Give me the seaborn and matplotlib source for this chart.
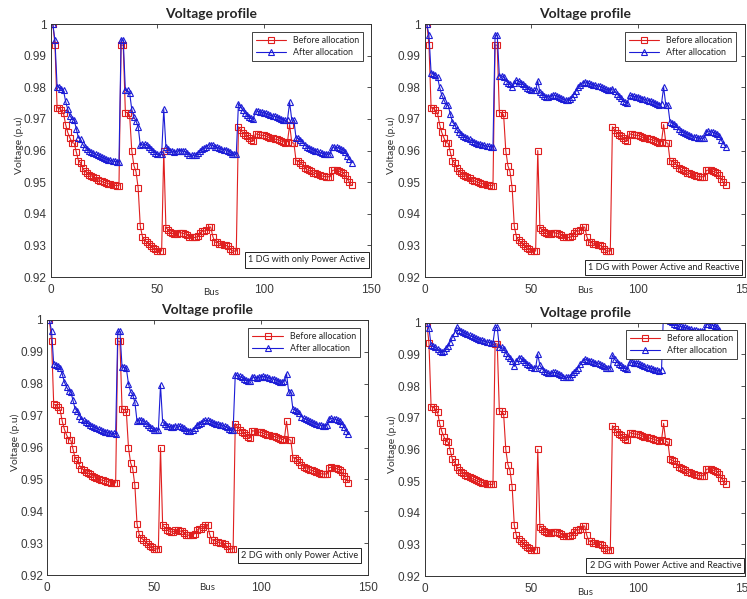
import matplotlib
matplotlib.use("Agg")
import matplotlib.pyplot as plt
import numpy as np
import pandas as pd
import seaborn as sns
from matplotlib.ticker import FuncFormatter

# voltage at each bus (p.u)
before_alloc = [
    1.0000, 0.9935, 0.9735, 0.9733, 0.9727, 0.9718, 0.9682, 0.9657, 0.9640, 0.9625,
    0.9623, 0.9596, 0.9568, 0.9561, 0.9545, 0.9534, 0.9530, 0.9524, 0.9520, 0.9516,
    0.9512, 0.9508, 0.9505, 0.9502, 0.9499, 0.9497, 0.9495, 0.9493, 0.9492, 0.9490,
    0.9489, 0.9489, 0.9934, 0.9933, 0.9720, 0.9720, 0.9712, 0.9600, 0.9552, 0.9533,
    0.9481, 0.9360, 0.9328, 0.9316, 0.9310, 0.9305, 0.9298, 0.9292, 0.9287, 0.9282,
    0.9282, 0.9282, 0.9600, 0.9356, 0.9350, 0.9342, 0.9338, 0.9335, 0.9336, 0.9340,
    0.9340, 0.9338, 0.9337, 0.9332, 0.9326, 0.9325, 0.9325, 0.9325, 0.9330, 0.9340,
    0.9345, 0.9345, 0.9350, 0.9358, 0.9358, 0.9328, 0.9310, 0.9310, 0.9305, 0.9303,
    0.9300, 0.9300, 0.9298, 0.9290, 0.9283, 0.9282, 0.9282, 0.9675, 0.9665, 0.9656,
    0.9650, 0.9645, 0.9640, 0.9633, 0.9630, 0.9653, 0.9651, 0.9649, 0.9648, 0.9648,
    0.9645, 0.9642, 0.9640, 0.9638, 0.9636, 0.9635, 0.9633, 0.9630, 0.9628, 0.9625,
    0.9628, 0.9682, 0.9625, 0.9623, 0.9568, 0.9566, 0.9562, 0.9555, 0.9545, 0.9540,
    0.9537, 0.9534, 0.9530, 0.9528, 0.9525, 0.9522, 0.9520, 0.9518, 0.9517, 0.9517,
    0.9517, 0.9537, 0.9538, 0.9537, 0.9535, 0.9532, 0.9530, 0.9522, 0.9510, 0.9500,
    0.9490,
]

after_1dg_p = [
    1.0000, 0.9948, 0.9802, 0.9800, 0.9795, 0.9790, 0.9755, 0.9730, 0.9710, 0.9700,
    0.9697, 0.9668, 0.9640, 0.9635, 0.9620, 0.9610, 0.9605, 0.9600, 0.9595, 0.9592,
    0.9588, 0.9585, 0.9582, 0.9579, 0.9576, 0.9573, 0.9571, 0.9569, 0.9567, 0.9566,
    0.9565, 0.9564, 0.9950, 0.9950, 0.9790, 0.9790, 0.9782, 0.9730, 0.9705, 0.9693,
    0.9675, 0.9617, 0.9620, 0.9620, 0.9617, 0.9612, 0.9605, 0.9598, 0.9593, 0.9588,
    0.9588, 0.9588, 0.9730, 0.9612, 0.9605, 0.9600, 0.9598, 0.9596, 0.9597, 0.9600,
    0.9600, 0.9598, 0.9597, 0.9592, 0.9587, 0.9585, 0.9585, 0.9586, 0.9592, 0.9600,
    0.9605, 0.9607, 0.9612, 0.9618, 0.9618, 0.9616, 0.9612, 0.9610, 0.9607, 0.9605,
    0.9603, 0.9603, 0.9600, 0.9596, 0.9590, 0.9589, 0.9588, 0.9748, 0.9738, 0.9728,
    0.9720, 0.9712, 0.9706, 0.9702, 0.9700, 0.9726, 0.9724, 0.9722, 0.9721, 0.9720,
    0.9717, 0.9714, 0.9712, 0.9710, 0.9708, 0.9706, 0.9704, 0.9701, 0.9698, 0.9695,
    0.9698, 0.9752, 0.9697, 0.9695, 0.9640, 0.9638, 0.9634, 0.9628, 0.9618, 0.9612,
    0.9609, 0.9606, 0.9602, 0.9600, 0.9597, 0.9594, 0.9592, 0.9590, 0.9589, 0.9589,
    0.9590, 0.9610, 0.9611, 0.9610, 0.9608, 0.9605, 0.9603, 0.9595, 0.9583, 0.9572,
    0.9562,
]

after_1dg_pq = [
    1.0000, 0.9965, 0.9845, 0.9843, 0.9838, 0.9832, 0.9800, 0.9775, 0.9760, 0.9745,
    0.9743, 0.9715, 0.9690, 0.9682, 0.9667, 0.9657, 0.9653, 0.9647, 0.9643, 0.9639,
    0.9635, 0.9631, 0.9628, 0.9625, 0.9622, 0.9620, 0.9618, 0.9616, 0.9614, 0.9613,
    0.9612, 0.9612, 0.9965, 0.9965, 0.9835, 0.9837, 0.9832, 0.9820, 0.9815, 0.9810,
    0.9800, 0.9812, 0.9822, 0.9820, 0.9815, 0.9810, 0.9803, 0.9797, 0.9793, 0.9790,
    0.9790, 0.9790, 0.9820, 0.9785, 0.9778, 0.9773, 0.9770, 0.9770, 0.9772, 0.9775,
    0.9775, 0.9772, 0.9770, 0.9766, 0.9762, 0.9760, 0.9760, 0.9762, 0.9770, 0.9780,
    0.9788, 0.9800, 0.9808, 0.9815, 0.9817, 0.9815, 0.9812, 0.9810, 0.9808, 0.9806,
    0.9805, 0.9803, 0.9800, 0.9797, 0.9793, 0.9792, 0.9792, 0.9795, 0.9788, 0.9780,
    0.9773, 0.9765, 0.9758, 0.9752, 0.9750, 0.9775, 0.9773, 0.9771, 0.9770, 0.9770,
    0.9767, 0.9764, 0.9762, 0.9760, 0.9758, 0.9756, 0.9754, 0.9751, 0.9748, 0.9745,
    0.9748, 0.9800, 0.9745, 0.9743, 0.9690, 0.9688, 0.9684, 0.9677, 0.9667, 0.9662,
    0.9659, 0.9656, 0.9652, 0.9650, 0.9647, 0.9644, 0.9642, 0.9640, 0.9639, 0.9639,
    0.9640, 0.9660, 0.9661, 0.9660, 0.9658, 0.9655, 0.9653, 0.9645, 0.9633, 0.9622,
    0.9612,
]

after_2dg_p = [
    1.0000, 0.9965, 0.9862, 0.9860, 0.9856, 0.9850, 0.9830, 0.9805, 0.9790, 0.9778,
    0.9775, 0.9748, 0.9722, 0.9715, 0.9700, 0.9690, 0.9685, 0.9680, 0.9676, 0.9672,
    0.9668, 0.9664, 0.9661, 0.9658, 0.9655, 0.9652, 0.9650, 0.9648, 0.9646, 0.9645,
    0.9644, 0.9643, 0.9965, 0.9965, 0.9852, 0.9852, 0.9848, 0.9800, 0.9775, 0.9765,
    0.9742, 0.9683, 0.9686, 0.9686, 0.9683, 0.9678, 0.9672, 0.9665, 0.9660, 0.9655,
    0.9655, 0.9655, 0.9795, 0.9680, 0.9673, 0.9668, 0.9666, 0.9664, 0.9665, 0.9668,
    0.9668, 0.9666, 0.9665, 0.9660, 0.9655, 0.9653, 0.9653, 0.9655, 0.9662, 0.9670,
    0.9675, 0.9678, 0.9682, 0.9685, 0.9685, 0.9683, 0.9680, 0.9678, 0.9675, 0.9673,
    0.9671, 0.9670, 0.9668, 0.9663, 0.9657, 0.9655, 0.9655, 0.9828, 0.9826, 0.9823,
    0.9820, 0.9815, 0.9812, 0.9810, 0.9810, 0.9822, 0.9820, 0.9819, 0.9820, 0.9822,
    0.9823, 0.9822, 0.9820, 0.9818, 0.9816, 0.9815, 0.9812, 0.9810, 0.9806, 0.9805,
    0.9808, 0.9832, 0.9775, 0.9773, 0.9720, 0.9718, 0.9714, 0.9707, 0.9697, 0.9692,
    0.9689, 0.9686, 0.9682, 0.9680, 0.9677, 0.9674, 0.9672, 0.9670, 0.9669, 0.9669,
    0.9670, 0.9690, 0.9691, 0.9690, 0.9688, 0.9685, 0.9683, 0.9675, 0.9663, 0.9652,
    0.9642,
]

after_2dg_pq = [
    1.0000, 0.9982, 0.9928, 0.9925, 0.9922, 0.9918, 0.9910, 0.9908, 0.9912, 0.9920,
    0.9925, 0.9940, 0.9955, 0.9968, 0.9985, 0.9978, 0.9975, 0.9970, 0.9967, 0.9963,
    0.9960, 0.9957, 0.9954, 0.9951, 0.9948, 0.9946, 0.9944, 0.9942, 0.9940, 0.9938,
    0.9937, 0.9936, 0.9985, 0.9985, 0.9922, 0.9922, 0.9918, 0.9905, 0.9895, 0.9890,
    0.9880, 0.9862, 0.9880, 0.9890, 0.9887, 0.9882, 0.9876, 0.9870, 0.9865, 0.9860,
    0.9858, 0.9858, 0.9900, 0.9865, 0.9855, 0.9848, 0.9843, 0.9840, 0.9840, 0.9843,
    0.9843, 0.9840, 0.9838, 0.9835, 0.9830, 0.9828, 0.9827, 0.9830, 0.9838, 0.9845,
    0.9850, 0.9858, 0.9868, 0.9880, 0.9885, 0.9883, 0.9880, 0.9878, 0.9876, 0.9874,
    0.9873, 0.9870, 0.9866, 0.9862, 0.9858, 0.9857, 0.9857, 0.9898, 0.9885, 0.9877,
    0.9870, 0.9865, 0.9860, 0.9856, 0.9853, 0.9876, 0.9876, 0.9874, 0.9872, 0.9872,
    0.9868, 0.9865, 0.9862, 0.9860, 0.9858, 0.9856, 0.9855, 0.9852, 0.9850, 0.9848,
    0.9850, 1.0045, 1.0012, 1.0010, 1.0005, 1.0003, 0.9996, 0.9993, 0.9990, 0.9988,
    0.9986, 0.9985, 0.9983, 0.9981, 0.9979, 0.9978, 0.9976, 0.9974, 0.9973, 0.9973,
    0.9974, 0.9995, 0.9996, 0.9994, 0.9992, 0.9989, 0.9986, 0.9978, 0.9966, 0.9955,
    0.9945,
]

bus = np.arange(1, len(before_alloc) + 1)

panel_notes = [
    "1 DG with only Power Active",
    "1 DG with Power Active and Reactive",
    "2 DG with only Power Active",
    "2 DG with Power Active and Reactive",
]
after_series = [after_1dg_p, after_1dg_pq, after_2dg_p, after_2dg_pq]

ytick_vals = [0.92, 0.93, 0.94, 0.95, 0.96, 0.97, 0.98, 0.99, 1.0]
xtick_vals = [0, 50, 100, 150]

# layout in pixels of the 747x599 picture: axes box (l, t, r, b),
# legend upper-right corner, note box centre, offsets of the axis labels
W, H = 747, 599
axes_px = [(50.7, 24, 370.7, 277), (424.7, 24, 744.7, 277),
           (47.3, 320, 367.7, 575), (424.7, 322.7, 744.7, 576)]
legend_px = [(363.3, 32.3), (736.3, 32.3), (360, 328.3), (737.3, 330)]
note_px = [(307, 260), (663.5, 267.3), (299.3, 555.5), (665.3, 565.3)]
xlabel_off = [15.7, 13.7, 13.0, 16.5]
ylabel_off = [31.4, 33.4, 32.3, 32.4]

RED = "#e01f1f"
BLUE = "#1c1cd6"
LABEL_FONT = ["Lato", "DejaVu Sans"]

sns.set_style("white")
plt.rcParams["font.family"] = ["Liberation Sans", "DejaVu Sans"]

fig = plt.figure(figsize=(W / 100, H / 100), dpi=100)

for k in range(4):
    l, t, r, b = axes_px[k]
    ax = fig.add_axes([l / W, 1 - b / H, (r - l) / W, (b - t) / H])
    df = pd.DataFrame({"Bus": bus, "before": before_alloc, "after": after_series[k]})

    sns.lineplot(data=df, x="Bus", y="before", ax=ax, color=RED, linewidth=0.8,
                 marker="s", markersize=4.4, markerfacecolor="none",
                 markeredgecolor=RED, markeredgewidth=0.8, label="Before allocation")
    sns.lineplot(data=df, x="Bus", y="after", ax=ax, color=BLUE, linewidth=0.8,
                 marker="^", markersize=5.0, markerfacecolor="none",
                 markeredgecolor=BLUE, markeredgewidth=0.8, label="After allocation")

    ax.set_xlim(0, 150)
    ax.set_ylim(0.92, 1.0)
    ax.set_xticks(xtick_vals)
    ax.set_yticks(ytick_vals)
    ax.yaxis.set_major_formatter(FuncFormatter(lambda v, p: "%g" % round(v, 2)))
    ax.tick_params(direction="in", length=3, width=0.6, top=True, right=True,
                   labelsize=8.5, labelcolor="#3a3a3a", color="#333333")
    ax.tick_params(axis="x", pad=5)
    ax.tick_params(axis="y", pad=3)
    for sp in ax.spines.values():
        sp.set_color("#333333")
        sp.set_linewidth(0.7)

    ax.set_title("Voltage profile", fontsize=10, fontweight="bold",
                 family=LABEL_FONT, pad=4)

    ax.set_xlabel("Bus", fontsize=7, family=LABEL_FONT, color="#333333")
    ax.xaxis.label.set_verticalalignment("center")
    ax.xaxis.set_label_coords(0.5, -xlabel_off[k] / (b - t))

    ax.set_ylabel("Voltage (p.u)", fontsize=7.5, family=LABEL_FONT, color="#333333")
    ax.yaxis.label.set_verticalalignment("center")
    ax.yaxis.set_label_coords(-ylabel_off[k] / (r - l), 0.52)

    lx, ly = legend_px[k]
    leg = ax.legend(loc="upper right", bbox_to_anchor=((lx - l) / (r - l), (b - ly) / (b - t)),
                    borderaxespad=0, fancybox=False, framealpha=1, edgecolor="#222222",
                    prop={"family": LABEL_FONT, "size": 6.4},
                    handlelength=3.4, handletextpad=0.8, labelspacing=0.35, borderpad=0.45)
    leg.get_frame().set_linewidth(0.6)
    leg.set_zorder(10)

    nx, ny = note_px[k]
    ax.text((nx - l) / (r - l), (b - ny) / (b - t), panel_notes[k], transform=ax.transAxes,
            ha="center", va="center", fontsize=6.6, family=LABEL_FONT,
            color="#222222", zorder=11,
            bbox=dict(boxstyle="square,pad=0.35", fc="white", ec="#222222", lw=0.7))

fig.savefig("out.png", dpi=100, facecolor="white")
